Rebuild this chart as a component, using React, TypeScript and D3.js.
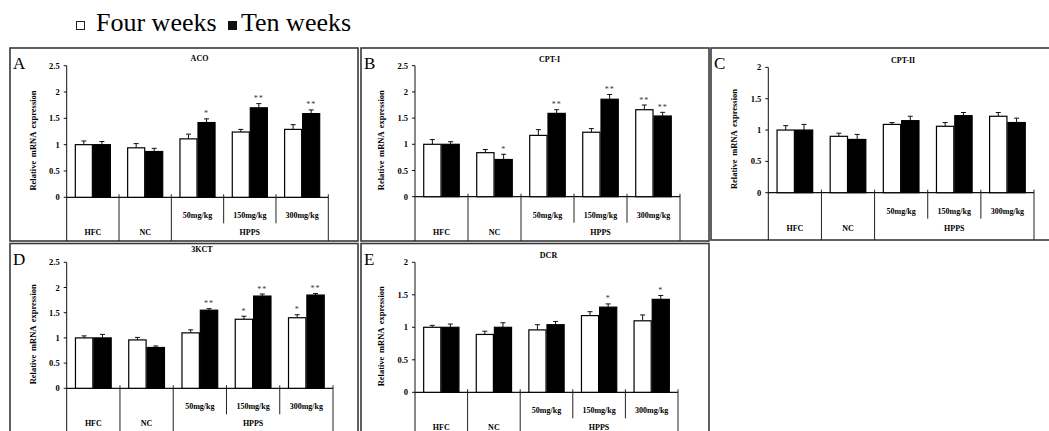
import React, { useEffect, useRef } from 'react';
import * as d3 from 'd3';

// groups along the category axis
const groups = ['HFC', 'NC', '50mg/kg', '150mg/kg', '300mg/kg'];
const doseLabels = ['50mg/kg', '150mg/kg', '300mg/kg'];
const series = ['Four weeks', 'Ten weeks'];

// ACO
const acoFour = [1.0, 0.94, 1.11, 1.24, 1.29];
const acoFourErr = [0.07, 0.08, 0.09, 0.05, 0.09];
const acoTen = [1.0, 0.87, 1.42, 1.70, 1.59];
const acoTenErr = [0.06, 0.06, 0.07, 0.08, 0.07];
const acoFourSig = ['', '', '', '', ''];
const acoTenSig = ['', '', '*', '**', '**'];

// CPT-I
const cpt1Four = [1.0, 0.84, 1.17, 1.23, 1.66];
const cpt1FourErr = [0.09, 0.06, 0.11, 0.07, 0.09];
const cpt1Ten = [1.0, 0.71, 1.59, 1.86, 1.54];
const cpt1TenErr = [0.05, 0.10, 0.07, 0.09, 0.07];
const cpt1FourSig = ['', '', '', '', '**'];
const cpt1TenSig = ['', '*', '**', '**', '**'];

// CPT-II
const cpt2Four = [1.0, 0.90, 1.09, 1.06, 1.22];
const cpt2FourErr = [0.07, 0.05, 0.03, 0.06, 0.06];
const cpt2Ten = [1.0, 0.85, 1.15, 1.23, 1.12];
const cpt2TenErr = [0.09, 0.08, 0.07, 0.05, 0.07];
const cpt2FourSig = ['', '', '', '', ''];
const cpt2TenSig = ['', '', '', '', ''];

// 3KCT
const kctFour = [1.0, 0.96, 1.10, 1.37, 1.40];
const kctFourErr = [0.04, 0.05, 0.06, 0.06, 0.06];
const kctTen = [1.0, 0.81, 1.55, 1.83, 1.85];
const kctTenErr = [0.07, 0.03, 0.03, 0.04, 0.03];
const kctFourSig = ['', '', '', '*', '*'];
const kctTenSig = ['', '', '**', '**', '**'];

// DCR
const dcrFour = [1.0, 0.89, 0.96, 1.18, 1.10];
const dcrFourErr = [0.03, 0.05, 0.08, 0.06, 0.09];
const dcrTen = [1.0, 1.0, 1.04, 1.31, 1.43];
const dcrTenErr = [0.05, 0.07, 0.05, 0.05, 0.06];
const dcrFourSig = ['', '', '', '', ''];
const dcrTenSig = ['', '', '', '*', '*'];

const ticks25 = [0, 0.5, 1, 1.5, 2, 2.5];
const ticks2 = [0, 0.5, 1, 1.5, 2];

const panels = [
  { letter: 'A', title: 'ACO', four: acoFour, fourErr: acoFourErr, ten: acoTen, tenErr: acoTenErr, fourSig: acoFourSig, tenSig: acoTenSig, ticks: ticks25,
    box: { x: 10, y: 48, w: 348, h: 193 }, plot: { left: 66.7, right: 328.3, top: 65.7, zero: 197.3 }, titleDy: 13 },
  { letter: 'B', title: 'CPT-I', four: cpt1Four, fourErr: cpt1FourErr, ten: cpt1Ten, tenErr: cpt1TenErr, fourSig: cpt1FourSig, tenSig: cpt1TenSig, ticks: ticks25,
    box: { x: 361, y: 48, w: 348, h: 193 }, plot: { left: 415, right: 680, top: 65.7, zero: 196.7 }, titleDy: 14 },
  { letter: 'C', title: 'CPT-II', four: cpt2Four, fourErr: cpt2FourErr, ten: cpt2Ten, tenErr: cpt2TenErr, fourSig: cpt2FourSig, tenSig: cpt2TenSig, ticks: ticks2,
    box: { x: 711, y: 48, w: 345, h: 192 }, plot: { left: 768.3, right: 1034, top: 67.4, zero: 192.7 }, titleDy: 15 },
  { letter: 'D', title: '3KCT', four: kctFour, fourErr: kctFourErr, ten: kctTen, tenErr: kctTenErr, fourSig: kctFourSig, tenSig: kctTenSig, ticks: ticks25,
    box: { x: 10, y: 243.5, w: 348, h: 200 }, plot: { left: 66.7, right: 333, top: 262.3, zero: 388.3 }, titleDy: 8.5 },
  { letter: 'E', title: 'DCR', four: dcrFour, fourErr: dcrFourErr, ten: dcrTen, tenErr: dcrTenErr, fourSig: dcrFourSig, tenSig: dcrTenSig, ticks: ticks2,
    box: { x: 361, y: 243.5, w: 348, h: 200 }, plot: { left: 415, right: 678, top: 262.3, zero: 392.3 }, titleDy: 14.5 },
];

const serif = '"Liberation Serif", "Times New Roman", serif';

export default function App() {
  const ref = useRef<SVGSVGElement>(null);

  useEffect(() => {
    const svg = d3.select(ref.current);
    svg.selectAll('*').remove();

    // legend
    const lg = svg.append('g').attr('font-family', serif).attr('font-size', 26);
    lg.append('rect').attr('x', 76.5).attr('y', 21.5).attr('width', 8).attr('height', 8)
      .attr('fill', 'white').attr('stroke', '#222').attr('stroke-width', 1);
    lg.append('text').attr('x', 96).attr('y', 31).text(series[0]);
    lg.append('rect').attr('x', 228).attr('y', 21).attr('width', 9).attr('height', 9).attr('fill', '#111');
    lg.append('text').attr('x', 241).attr('y', 31).text(series[1]);

    panels.forEach(p => {
      const g = svg.append('g');
      const { box, plot } = p;
      const bottom = box.y + box.h;

      g.append('rect')
        .attr('x', box.x).attr('y', box.y).attr('width', box.w).attr('height', box.h)
        .attr('fill', 'white').attr('stroke', '#3a3a3a').attr('stroke-width', 1.6);

      const x0 = d3.scaleBand().domain(groups).range([plot.left, plot.right]).padding(0);
      const x1 = d3.scaleBand().domain(series).range([0, x0.bandwidth()]).paddingInner(0).paddingOuter(0.45);
      const maxV = p.ticks[p.ticks.length - 1];
      const y = d3.scaleLinear().domain([0, maxV]).range([plot.zero, plot.top]);

      // letter and title
      g.append('text').attr('x', box.x + 3).attr('y', box.y + 21)
        .attr('font-family', serif).attr('font-size', 17).text(p.letter);
      g.append('text').attr('x', (plot.left + plot.right) / 2 + 2).attr('y', box.y + p.titleDy)
        .attr('text-anchor', 'middle').attr('font-family', serif).attr('font-weight', 'bold')
        .attr('font-size', 8).text(p.title);

      // y axis
      g.append('line').attr('x1', plot.left).attr('x2', plot.left)
        .attr('y1', y(maxV)).attr('y2', bottom).attr('stroke', '#111').attr('stroke-width', 1);
      g.selectAll('.ytick').data(p.ticks).join('line')
        .attr('x1', plot.left - 3).attr('x2', plot.left)
        .attr('y1', d => y(d)).attr('y2', d => y(d)).attr('stroke', '#111');
      g.selectAll('.ylab').data(p.ticks).join('text')
        .attr('x', plot.left - 7).attr('y', d => y(d) + 3)
        .attr('text-anchor', 'end').attr('font-family', serif).attr('font-weight', 'bold')
        .attr('font-size', 8.5).text(d => String(d));
      const midY = (plot.top + plot.zero) / 2 + 9;
      g.append('text')
        .attr('transform', `translate(${plot.left - 31}, ${midY}) rotate(-90)`)
        .attr('text-anchor', 'middle').attr('font-family', serif).attr('font-weight', 'bold')
        .attr('font-size', 8.5).attr('word-spacing', 1.5).text('Relative  mRNA expression');

      // x axis and table dividers
      g.append('line').attr('x1', plot.left).attr('x2', plot.right)
        .attr('y1', plot.zero).attr('y2', plot.zero).attr('stroke', '#111').attr('stroke-width', 1.2);
      const edges = groups.map((d, i) => ({ x: x0(d) as number, i })).concat([{ x: plot.right, i: groups.length }]);
      g.selectAll('.div').data(edges.filter(e => e.i > 0)).join('line')
        .attr('x1', e => e.x).attr('x2', e => e.x)
        .attr('y1', plot.zero - 3)
        .attr('y2', e => (e.i === 3 || e.i === 4) ? plot.zero + 26 : bottom)
        .attr('stroke', '#222').attr('stroke-width', 1);

      // bars
      const rows = groups.map((grp, i) => [
        { grp, s: series[0], v: p.four[i], e: p.fourErr[i], sig: p.fourSig[i] },
        { grp, s: series[1], v: p.ten[i], e: p.tenErr[i], sig: p.tenSig[i] },
      ]).flat();
      const bw = x1.bandwidth();
      const bx = (d: any) => (x0(d.grp) as number) + (x1(d.s) as number);

      g.selectAll('.err').data(rows).join('line')
        .attr('x1', d => bx(d) + bw / 2).attr('x2', d => bx(d) + bw / 2)
        .attr('y1', d => y(d.v)).attr('y2', d => y(d.v + d.e)).attr('stroke', '#111');
      g.selectAll('.cap').data(rows).join('line')
        .attr('x1', d => bx(d) + bw / 2 - 2.5).attr('x2', d => bx(d) + bw / 2 + 2.5)
        .attr('y1', d => y(d.v + d.e)).attr('y2', d => y(d.v + d.e)).attr('stroke', '#111');
      g.selectAll('.bar').data(rows).join('rect')
        .attr('x', d => bx(d) + 0.5).attr('y', d => y(d.v))
        .attr('width', bw - 1).attr('height', d => plot.zero - y(d.v))
        .attr('fill', d => d.s === series[0] ? 'white' : '#000')
        .attr('stroke', '#000').attr('stroke-width', 1.2);
      g.selectAll('.sig').data(rows.filter(d => d.sig)).join('text')
        .attr('x', d => bx(d) + bw / 2).attr('y', d => y(d.v + d.e) - 2.5)
        .attr('text-anchor', 'middle').attr('font-family', serif).attr('font-size', 8)
        .attr('letter-spacing', 1).attr('fill', '#333').text(d => d.sig);

      // table labels
      const lab = g.append('g').attr('font-family', serif).attr('font-weight', 'bold')
        .attr('font-size', 8).attr('text-anchor', 'middle');
      lab.selectAll('.dose').data(doseLabels).join('text')
        .attr('x', d => (x0(d) as number) + x0.bandwidth() / 2).attr('y', plot.zero + 21)
        .text(d => d);
      const row2 = Math.min(plot.zero + 38, 429.5);
      lab.append('text').attr('x', (x0('HFC') as number) + x0.bandwidth() / 2).attr('y', row2).text('HFC');
      lab.append('text').attr('x', (x0('NC') as number) + x0.bandwidth() / 2).attr('y', row2).text('NC');
      lab.append('text').attr('x', ((x0('50mg/kg') as number) + plot.right) / 2).attr('y', row2).text('HPPS');
    });
  }, []);

  return (
    <svg ref={ref} width={1049} height={431}
      style={{ position: 'absolute', left: 0, top: 0, background: 'white' }} />
  );
}
